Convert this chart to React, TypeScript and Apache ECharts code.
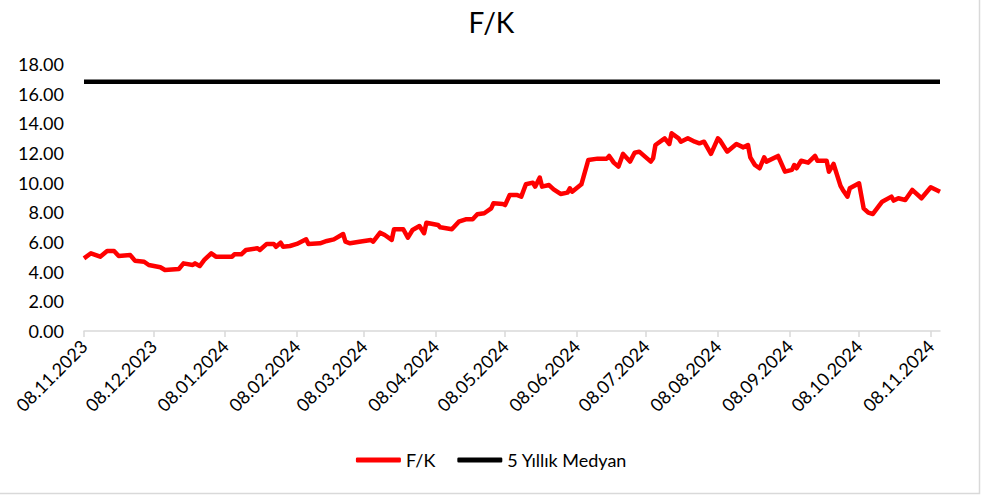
import React, { useEffect, useRef } from "react";
import * as echarts from "echarts";

const TITLE = "F/K";
const SERIES_FK = "F/K";
const SERIES_MED = "5 Yıllık Medyan";

const dates: string[] = [
  "2023-11-08", "2023-11-11", "2023-11-15", "2023-11-18", "2023-11-21", "2023-11-23", "2023-11-28", "2023-11-30",
  "2023-12-04", "2023-12-06", "2023-12-11", "2023-12-13", "2023-12-19", "2023-12-21", "2023-12-25", "2023-12-26",
  "2023-12-28", "2023-12-30", "2024-01-02", "2024-01-04", "2024-01-11", "2024-01-12", "2024-01-15", "2024-01-17",
  "2024-01-22", "2024-01-23", "2024-01-26", "2024-01-29", "2024-01-30", "2024-02-01", "2024-02-02", "2024-02-05",
  "2024-02-08", "2024-02-12", "2024-02-13", "2024-02-18", "2024-02-21", "2024-02-24", "2024-02-28", "2024-02-29",
  "2024-03-02", "2024-03-06", "2024-03-11", "2024-03-12", "2024-03-15", "2024-03-17", "2024-03-20", "2024-03-21",
  "2024-03-25", "2024-03-27", "2024-03-29", "2024-04-01", "2024-04-03", "2024-04-04", "2024-04-09", "2024-04-10",
  "2024-04-15", "2024-04-18", "2024-04-21", "2024-04-24", "2024-04-26", "2024-04-29", "2024-05-02", "2024-05-03",
  "2024-05-07", "2024-05-08", "2024-05-10", "2024-05-13", "2024-05-15", "2024-05-17", "2024-05-20", "2024-05-21",
  "2024-05-23", "2024-05-24", "2024-05-27", "2024-05-29", "2024-06-01", "2024-06-04", "2024-06-05", "2024-06-06",
  "2024-06-10", "2024-06-13", "2024-06-17", "2024-06-21", "2024-06-22", "2024-06-24", "2024-06-26", "2024-06-28",
  "2024-07-01", "2024-07-03", "2024-07-05", "2024-07-10", "2024-07-11", "2024-07-12", "2024-07-16", "2024-07-18",
  "2024-07-19", "2024-07-22", "2024-07-23", "2024-07-26", "2024-07-29", "2024-07-31", "2024-08-02", "2024-08-05",
  "2024-08-08", "2024-08-09", "2024-08-12", "2024-08-16", "2024-08-19", "2024-08-21", "2024-08-22", "2024-08-24",
  "2024-08-26", "2024-08-28", "2024-08-29", "2024-09-03", "2024-09-06", "2024-09-09", "2024-09-10", "2024-09-11",
  "2024-09-13", "2024-09-16", "2024-09-19", "2024-09-20", "2024-09-24", "2024-09-25", "2024-09-27", "2024-09-30",
  "2024-10-01", "2024-10-03", "2024-10-04", "2024-10-08", "2024-10-10", "2024-10-12", "2024-10-14", "2024-10-18",
  "2024-10-22", "2024-10-23", "2024-10-25", "2024-10-28", "2024-10-31", "2024-11-04", "2024-11-08", "2024-11-12",
];

const fkValues: number[] = [
  4.9, 5.24, 5.01, 5.39, 5.39, 5.06, 5.12, 4.74,
  4.67, 4.45, 4.3, 4.11, 4.18, 4.56, 4.45, 4.56,
  4.38, 4.79, 5.24, 5.01, 5.01, 5.17, 5.17, 5.46,
  5.58, 5.46, 5.87, 5.87, 5.68, 5.95, 5.68, 5.73,
  5.87, 6.18, 5.87, 5.91, 6.07, 6.18, 6.54, 6.02,
  5.91, 6.02, 6.14, 6.02, 6.63, 6.47, 6.14, 6.86,
  6.86, 6.29, 6.81, 7.08, 6.59, 7.3, 7.15, 6.99,
  6.86, 7.37, 7.53, 7.53, 7.87, 7.94, 8.27, 8.61,
  8.56, 8.49, 9.17, 9.17, 9.06, 9.89, 10.0, 9.73,
  10.34, 9.73, 9.84, 9.55, 9.24, 9.33, 9.62, 9.39,
  9.89, 11.53, 11.62, 11.62, 11.8, 11.35, 11.08, 11.94,
  11.42, 12.02, 12.09, 11.42, 11.65, 12.54, 12.99, 12.61,
  13.33, 12.99, 12.76, 12.99, 12.76, 12.65, 12.76, 11.94,
  12.99, 12.83, 12.09, 12.61, 12.38, 12.54, 11.71, 11.19,
  10.97, 11.71, 11.42, 11.8, 10.74, 10.86, 11.19, 10.97,
  11.48, 11.35, 11.8, 11.48, 11.48, 10.74, 11.26, 9.78,
  9.51, 9.06, 9.62, 9.96, 8.27, 7.98, 7.89, 8.72,
  9.06, 8.79, 8.95, 8.83, 9.51, 8.95, 9.69, 9.39,
];

const medianValue = 16.8;
const medianDates: string[] = ["2023-11-08", "2024-11-12"];

const tickDates: string[] = [
  "2023-11-08", "2023-12-08", "2024-01-08", "2024-02-08", "2024-03-08", "2024-04-08", "2024-05-08",
  "2024-06-08", "2024-07-08", "2024-08-08", "2024-09-08", "2024-10-08", "2024-11-08",
];

const yTicks: number[] = [0, 2, 4, 6, 8, 10, 12, 14, 16, 18];

const FONT = "Lato, 'Open Sans', sans-serif";

function ts(d: string): number {
  return Date.parse(d + "T00:00:00Z");
}
function pad(n: number): string {
  return n < 10 ? "0" + n : "" + n;
}
function fmt(v: number): string {
  const d = new Date(v);
  return pad(d.getUTCDate()) + "." + pad(d.getUTCMonth() + 1) + "." + d.getUTCFullYear();
}

export default function App() {
  const ref = useRef<HTMLDivElement>(null);
  useEffect(() => {
    document.body.style.margin = "0";
    if (!ref.current) return;
    const chart = echarts.init(ref.current, undefined, { renderer: "svg" });
    const tickVals = tickDates.map(ts);
    chart.setOption({
      animation: false,
      backgroundColor: "#ffffff",
      title: {
        text: TITLE,
        left: "center",
        top: 3,
        textStyle: { fontFamily: FONT, fontSize: 28, fontWeight: "normal", color: "#000000" },
      },
      legend: {
        bottom: 24,
        left: "center",
        icon: "roundRect",
        itemWidth: 45,
        itemHeight: 5,
        itemGap: 22,
        textStyle: { fontFamily: FONT, fontSize: 18, color: "#000000" },
        data: [SERIES_FK, SERIES_MED],
      },
      grid: { left: 84, right: 43, top: 64, bottom: 167, containLabel: false },
      xAxis: {
        type: "value",
        min: ts(dates[0]),
        max: ts(medianDates[1]),
        splitLine: { show: false },
        axisLine: { show: true, lineStyle: { color: "#d9d9d9", width: 1.5 } },
        axisTick: {
          show: true,
          length: 6,
          customValues: tickVals,
          lineStyle: { color: "#d9d9d9", width: 1.5 },
        },
        axisLabel: {
          customValues: tickVals,
          rotate: 45,
          margin: 12,
          fontFamily: FONT,
          fontSize: 18,
          color: "#000000",
          formatter: (v: number) => fmt(v),
        },
      },
      yAxis: {
        type: "value",
        min: yTicks[0],
        max: yTicks[yTicks.length - 1],
        interval: 2,
        splitLine: { show: false },
        axisLine: { show: false },
        axisTick: { show: false },
        axisLabel: {
          margin: 20,
          fontFamily: FONT,
          fontSize: 18,
          color: "#000000",
          formatter: (v: number) => v.toFixed(2),
        },
      },
      series: [
        {
          name: SERIES_FK,
          type: "line",
          symbol: "none",
          data: dates.map((d, i) => [ts(d), fkValues[i]]),
          lineStyle: { color: "#ff0000", width: 4.5, join: "round" },
          itemStyle: { color: "#ff0000" },
        },
        {
          name: SERIES_MED,
          type: "line",
          symbol: "none",
          data: medianDates.map((d) => [ts(d), medianValue]),
          lineStyle: { color: "#000000", width: 4.5 },
          itemStyle: { color: "#000000" },
        },
      ],
      graphic: [
        {
          type: "rect",
          shape: { x: -1, y: -1, width: 980.5, height: 494.5 },
          style: { fill: "none", stroke: "#d9d9d9", lineWidth: 1.5 },
          silent: true,
        },
      ],
    });
    return () => chart.dispose();
  }, []);
  return <div ref={ref} style={{ width: 983, height: 498 }} />;
}
